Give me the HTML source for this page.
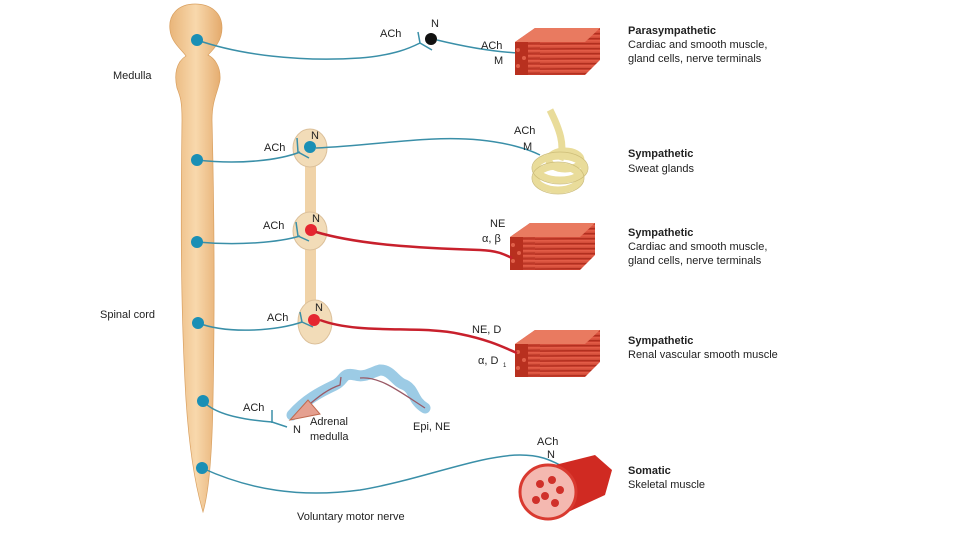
<!DOCTYPE html>
<html><head><meta charset="utf-8"><style>
body{margin:0;background:#fff}
svg{display:block}
text{font-family:"Liberation Sans",sans-serif;font-size:11px;fill:#222}
.b{font-weight:bold}
.n{fill:none;stroke:#3a8fa8;stroke-width:1.5}
.r{fill:none;stroke:#c8202c;stroke-width:2.5}
</style></head><body>
<svg width="960" height="540" viewBox="0 0 960 540">
<defs>
<linearGradient id="cord" x1="0" x2="1"><stop offset="0" stop-color="#e9b57a"/><stop offset=".5" stop-color="#f8d8ac"/><stop offset="1" stop-color="#e4aa6c"/></linearGradient>
<linearGradient id="mus" x1="0" y1="0" x2="0" y2="1"><stop offset="0" stop-color="#e5604a"/><stop offset="1" stop-color="#c33a2a"/></linearGradient>
<pattern id="str" width="90" height="5" patternUnits="userSpaceOnUse"><rect width="90" height="5" fill="url(#mus)"/><line x1="0" y1="4" x2="90" y2="3" stroke="#a82818" stroke-width=".8"/></pattern>
</defs>
<path d="M195 4 C178 4 168 15 170 30 C171 42 182 50 186 56 C176 62 174 75 177 88 C180 96 182 100 182 120 C181 200 180 300 186 400 C190 460 198 495 203 512 C208 495 212 460 213 400 C215 300 214 200 212 120 C212 100 218 92 220 80 C221 66 214 58 208 55 C215 48 222 40 222 28 C222 12 210 4 195 4Z" fill="url(#cord)" stroke="#d9a060" stroke-width=".7"/>
<rect x="305" y="135" width="11" height="205" fill="#f0d3a8"/>
<ellipse cx="310" cy="148" rx="17" ry="19" fill="#f2dcb8" stroke="#dcc09a"/>
<ellipse cx="310" cy="231" rx="17" ry="19" fill="#f2dcb8" stroke="#dcc09a"/>
<ellipse cx="315" cy="322" rx="17" ry="22" fill="#f2dcb8" stroke="#dcc09a"/>
<path class="n" d="M197 40 C240 55 300 62 360 58 C395 55 410 48 420 43"/>
<path class="n" d="M418 32 L420 43 L432 50"/>
<circle cx="431" cy="39" r="6" fill="#111"/>
<path class="n" d="M437 40 C470 48 495 52 520 53"/>
<g id="m1"><polygon points="515,42 535,28 600,28 600,60 585,75 515,75" fill="url(#str)"/><polygon points="515,42 535,28 600,28 585,42" fill="#e97a60"/><polygon points="515,42 528,42 528,75 515,75" fill="#b8301f"/><g fill="#e0604a"><circle cx="518" cy="50" r="2"/><circle cx="524" cy="58" r="2"/><circle cx="518" cy="66" r="2"/></g></g>
<use href="#m1" transform="translate(-5,195)"/>
<use href="#m1" transform="translate(0,302)"/>
<path class="n" d="M197 160 C240 165 280 160 300 152"/>
<path class="n" d="M297 138 L298 152 L309 158"/>
<circle cx="310" cy="147" r="6" fill="#1a8fb5"/>
<path class="n" d="M316 148 C380 145 430 135 480 140 C510 143 530 150 540 155"/>
<g fill="none" stroke="#e9dc9a" stroke-width="7"><path d="M550 110 C560 130 565 145 560 160"/><ellipse cx="560" cy="168" rx="24" ry="12"/><ellipse cx="558" cy="178" rx="22" ry="12"/><ellipse cx="565" cy="160" rx="16" ry="9"/></g>
<g fill="none" stroke="#cdbd78" stroke-width=".8"><ellipse cx="560" cy="168" rx="28" ry="16"/><ellipse cx="558" cy="178" rx="26" ry="16"/></g>
<path class="n" d="M197 242 C240 246 280 242 300 236"/>
<path class="n" d="M296 222 L298 236 L309 241"/>
<circle cx="311" cy="230" r="6" fill="#e52630"/>
<path class="r" d="M316 232 C360 245 420 248 480 250 C500 251 505 255 512 258"/>
<path class="n" d="M198 323 C230 335 280 330 302 322"/>
<path class="n" d="M300 312 L302 322 L313 327"/>
<circle cx="314" cy="320" r="6" fill="#e52630"/>
<path class="r" d="M320 320 C360 335 420 325 460 334 C490 340 505 348 517 353"/>
<path class="n" d="M203 401 C215 415 245 420 272 422 L287 427"/>
<path class="n" d="M272 410 L272 423"/>
<path d="M292 415 C305 400 320 392 335 385 C345 380 342 372 355 375 C365 378 372 372 380 370 C392 370 395 382 405 385 C415 390 412 400 425 408" fill="none" stroke="#9ccbe5" stroke-width="11" stroke-linecap="round"/>
<path d="M300 412 C315 400 325 390 340 385 L341 377 M360 378 C380 376 400 392 425 408" fill="none" stroke="#9a5a66" stroke-width="1.3"/>
<polygon points="290,420 308,400 320,414" fill="#e5a090" stroke="#c06a50"/>
<path class="n" d="M202 468 C250 490 300 498 360 490 C420 480 480 455 520 455 C540 455 550 460 560 465"/>
<polygon points="535,470 595,455 612,470 605,495 555,518" fill="#d02a22"/>
<ellipse cx="548" cy="492" rx="28" ry="27" fill="#f4b8b0" stroke="#d93a30" stroke-width="3"/>
<g fill="#d0302a"><circle cx="540" cy="484" r="4"/><circle cx="552" cy="480" r="4"/><circle cx="560" cy="490" r="4"/><circle cx="545" cy="496" r="4"/><circle cx="555" cy="503" r="4"/><circle cx="536" cy="500" r="4"/></g>
<g fill="#1a8fb5"><circle cx="197" cy="40" r="6"/><circle cx="197" cy="160" r="6"/><circle cx="197" cy="242" r="6"/><circle cx="198" cy="323" r="6"/><circle cx="203" cy="401" r="6"/><circle cx="202" cy="468" r="6"/></g>
<text x="113" y="79">Medulla</text>
<text x="100" y="318">Spinal cord</text>
<text x="380" y="37">ACh</text><text x="431" y="27">N</text><text x="481" y="49">ACh</text><text x="494" y="64">M</text>
<text x="264" y="151">ACh</text><text x="311" y="139">N</text><text x="514" y="134">ACh</text><text x="523" y="150">M</text>
<text x="263" y="229">ACh</text><text x="312" y="222">N</text><text x="490" y="227">NE</text><text x="482" y="242">α, β</text>
<text x="267" y="321">ACh</text><text x="315" y="311">N</text><text x="472" y="333">NE, D</text><text x="478" y="364">α, D</text><text x="503" y="367" style="font-size:6px">1</text>
<text x="243" y="411">ACh</text><text x="293" y="433">N</text><text x="310" y="425">Adrenal</text><text x="310" y="440">medulla</text><text x="413" y="430">Epi, NE</text>
<text x="537" y="445">ACh</text><text x="547" y="458">N</text>
<text x="297" y="520">Voluntary motor nerve</text>
<text x="628" y="34" class="b">Parasympathetic</text><text x="628" y="48">Cardiac and smooth muscle,</text><text x="628" y="62">gland cells, nerve terminals</text>
<text x="628" y="157" class="b">Sympathetic</text><text x="628" y="172">Sweat glands</text>
<text x="628" y="236" class="b">Sympathetic</text><text x="628" y="250">Cardiac and smooth muscle,</text><text x="628" y="264">gland cells, nerve terminals</text>
<text x="628" y="344" class="b">Sympathetic</text><text x="628" y="358">Renal vascular smooth muscle</text>
<text x="628" y="474" class="b">Somatic</text><text x="628" y="488">Skeletal muscle</text>
</svg>
</body></html>
